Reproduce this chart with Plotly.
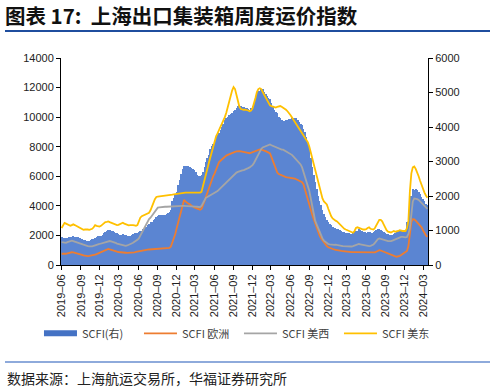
import pandas as pd
import plotly.graph_objects as go

# weekly dates (Fridays), 2019-05-31 .. 2024-03-22
dates = pd.date_range("2019-05-31", periods=252, freq="7D")

# SCFI composite (right axis)
scfi = [
    800, 790, 785, 780, 790, 800, 815, 825, 830, 825, 815, 800, 790, 780, 760, 735, 720, 710, 700, 705, 720, 740, 760, 790, 820, 830, 840, 850, 880, 920, 960,
    1000, 1020, 1010, 990, 980, 970, 940, 920, 890, 880, 880, 890, 880, 860, 840, 830, 840, 860, 890, 920, 930, 925, 950, 980, 1000, 1030, 1060, 1100, 1150, 1200, 1250, 1260, 1300, 1330, 1380, 1420, 1440, 1445, 1450, 1450, 1460, 1480, 1500, 1530, 1600, 1850, 1950, 2050, 2130, 2310, 2450, 2640,
    2780, 2870, 2880, 2870, 2860, 2840, 2800, 2780, 2760, 2700, 2620, 2570, 2580, 2600, 2700, 2850, 3000, 3100, 3200, 3350, 3450, 3500, 3600, 3700, 3780, 3830, 3900, 4000, 4100, 4200, 4250, 4300, 4340, 4380, 4400, 4450, 4500, 4560, 4600, 4630, 4600, 4590, 4570, 4560, 4550, 4530, 4500, 4550, 4600, 4700, 4850, 4950, 5050,
    5050, 5110, 5100, 5010, 4950, 4900, 4850, 4800, 4700, 4600, 4500, 4430, 4400, 4300, 4260, 4200, 4180, 4180, 4200, 4200, 4220, 4230, 4250, 4270, 4260, 4250, 4200, 4150, 4100, 4050, 3950, 3850, 3700, 3550, 3350, 3100, 2850, 2600, 2400, 2200, 2000, 1850, 1750, 1600, 1480, 1380, 1300, 1250, 1200, 1150, 1100, 1080,
    1060, 1040, 1030, 1010, 990, 960, 950, 940, 930, 920, 910, 900, 920, 950, 980, 1000, 1030, 1010, 990, 970, 950, 940, 950, 960, 950, 940, 960, 990, 1020, 1040, 1030, 1010, 990, 970, 940, 910, 890, 880, 880, 870, 890, 920, 950, 980, 990, 1000, 1000, 990, 1010, 1250, 1500, 1760,
    2000, 2200, 2180, 2200, 2170, 2110, 2050, 1980, 1920, 1850, 1780, 1740,
]

# SCFI Europe (left axis)
europe = [
    760, 750, 740, 760, 790, 820, 850, 860, 850, 830, 800, 780, 750, 720, 690, 650, 620, 610, 600, 610, 620, 640, 660, 700, 740, 780, 820, 860, 900, 950, 1000,
    1050, 1090, 1060, 1020, 980, 950, 920, 900, 880, 860, 850, 840, 830, 830, 820, 820, 830, 840, 850, 860, 880, 900, 950, 980, 1000, 1010, 1020, 1030, 1040, 1050, 1060, 1060, 1070, 1080, 1080, 1090, 1090, 1100, 1100, 1110, 1120, 1130, 1140, 1160, 1250, 1500, 1800, 2100, 2500, 2900, 3300, 3800,
    4100, 4400, 4300, 4200, 4150, 4100, 4000, 3950, 3900, 3850, 3800, 3750, 3740, 3800, 4000, 4300, 4600, 4900, 5200, 5500, 5800, 6000, 6200, 6500, 6800, 6950, 7050, 7150, 7250, 7350, 7400, 7450, 7500, 7550, 7600, 7620, 7650, 7680, 7700, 7700, 7680, 7650, 7620, 7600, 7600, 7580, 7560, 7600, 7620, 7650, 7700, 7750, 7800,
    7820, 7800, 7780, 7750, 7700, 7650, 7600, 7550, 7300, 7000, 6700, 6400, 6250, 6150, 6100, 6050, 6000, 5980, 5950, 5930, 5920, 5910, 5900, 5880, 5850, 5800, 5750, 5700, 5650, 5600, 5450, 5100, 4700, 4300, 4000, 3700, 3400, 3100, 2800, 2550, 2250, 2000, 1800, 1650, 1500, 1380, 1280, 1200, 1150, 1100, 1080, 1050,
    1030, 1000, 980, 960, 950, 940, 920, 910, 900, 890, 880, 870, 870, 870, 860, 860, 850, 850, 850, 840, 840, 830, 830, 820, 820, 830, 840, 860, 900, 950, 1000, 980, 940, 900, 850, 800, 750, 700, 650, 620, 600, 580, 560, 580, 620, 680, 740, 800, 850, 950, 1300, 2300,
    2900, 3100, 3080, 3000, 2900, 2800, 2700, 2550, 2350, 2150, 2000, 1900,
]

# SCFI US West coast (left axis)
us_west = [
    1550, 1520, 1500, 1500, 1550, 1600, 1650, 1650, 1620, 1580, 1550, 1500, 1450, 1420, 1400, 1380, 1350, 1300, 1280, 1260, 1250, 1260, 1300, 1350, 1380, 1400, 1420, 1450, 1480, 1500, 1530,
    1560, 1600, 1620, 1600, 1580, 1550, 1500, 1450, 1420, 1380, 1350, 1320, 1300, 1300, 1320, 1350, 1400, 1450, 1500, 1550, 1600, 1700, 1800, 2000, 2200, 2400, 2600, 2800, 2950, 3100, 3200, 3350, 3500, 3650, 3800, 3880, 3900, 3920, 3930, 3930, 3940, 3940, 3950, 3950, 3950, 3950, 3960, 3970, 3980, 3990, 4000, 4000,
    4000, 4000, 4000, 4000, 3990, 3980, 3970, 3960, 3950, 3950, 3940, 3930, 3920, 4000, 4200, 4400, 4550, 4600, 4650, 4700, 4750, 4800, 4850, 4900, 5000, 5100, 5200, 5300, 5400, 5500, 5600, 5700, 5800, 5900, 6000, 6100, 6200, 6250, 6300, 6350, 6400, 6400, 6420, 6450, 6500, 6550, 6600, 6650, 6750, 6900, 7100, 7300, 7500,
    7700, 7850, 7950, 8000, 8050, 8100, 8150, 8150, 8100, 8050, 8000, 7950, 7900, 7850, 7850, 7800, 7800, 7750, 7700, 7650, 7600, 7550, 7450, 7350, 7250, 7100, 7000, 6900, 6800, 6600, 6300, 6000, 5700, 5400, 5000, 4500, 3900, 3400, 3000, 2750, 2500, 2250, 2000, 1800, 1650, 1550, 1480, 1420, 1390, 1370, 1360, 1360,
    1380, 1370, 1350, 1330, 1300, 1280, 1270, 1260, 1250, 1240, 1230, 1250, 1280, 1320, 1380, 1400, 1420, 1400, 1380, 1350, 1330, 1300, 1280, 1280, 1300, 1320, 1380, 1500, 1650, 1750, 1800, 1780, 1750, 1720, 1680, 1650, 1620, 1600, 1620, 1650, 1700, 1750, 1800, 1850, 1880, 1900, 1900, 1880, 1870, 1900, 2100, 2500,
    3500, 4300, 4500, 4500, 4450, 4400, 4300, 4200, 4100, 4000, 3900, 3800,
]

# SCFI US East coast (left axis)
us_east = [
    2500, 2700, 2850, 2800, 2750, 2700, 2650, 2700, 2750, 2700, 2650, 2600, 2500, 2450, 2400, 2380, 2400, 2420, 2400, 2380, 2400, 2450, 2550, 2700, 2650, 2600, 2600, 2650, 2750, 2850, 2900,
    2920, 2950, 2900, 2850, 2800, 2750, 2700, 2700, 2720, 2750, 2800, 2860, 2800, 2750, 2700, 2680, 2700, 2720, 2700, 2680, 2650, 2700, 3000, 3200, 3300, 3350, 3400, 3450, 3500, 3530, 3700, 3900, 4200, 4450, 4600, 4620, 4630, 4640, 4650, 4650, 4660, 4680, 4700, 4720, 4740, 4760, 4780, 4800, 4820, 4850, 4870, 4880,
    4880, 4890, 4900, 4900, 4900, 4900, 4890, 4890, 4890, 4890, 4890, 4890, 4900, 4950, 5300, 5700, 6100, 6500, 6900, 7300, 7700, 8100, 8400, 8700, 8900, 9100, 9300, 9500, 9700, 10000, 10300, 10700, 11100, 11500, 11800, 12030, 11900, 11500, 11000, 10700, 10550, 10500, 10500, 10500, 10500, 10450, 10400, 10450, 10600, 10900, 11300, 11700, 11900,
    11950, 11900, 11700, 11500, 11300, 11100, 10900, 10800, 10750, 10700, 10650, 10650, 10700, 10750, 10750, 10700, 10650, 10600, 10500, 10400, 10300, 10150, 10000, 9850, 9700, 9550, 9400, 9250, 9100, 8950, 8800, 8650, 8500, 8300, 8000, 7600, 7200, 6800, 6400, 6000, 5600, 5200, 4800, 4500, 4300, 4200, 4100, 3800, 3500, 3300, 3150, 3050,
    3000, 2950, 2850, 2700, 2600, 2500, 2450, 2400, 2350, 2300, 2250, 2200, 2180, 2300, 2500, 2550, 2500, 2450, 2450, 2400, 2400, 2420, 2500, 2550, 2450, 2400, 2400, 2500, 2700, 2900, 3050, 3050, 2950, 2750, 2500, 2350, 2250, 2200, 2200, 2250, 2300, 2250, 2250, 2300, 2350, 2300, 2300, 2300, 2300, 2500, 3000, 5000,
    6200, 6600, 6660, 6500, 6300, 6000, 5700, 5400, 5100, 4900, 4700, 4550,
]

for s in (scfi, europe, us_west, us_east):
    assert len(s) == len(dates), len(s)

tick_dates = [d.strftime("%Y-%m-%d") for d in pd.date_range("2019-06-01", "2024-03-01", freq="3MS")]
tick_labels = [d[:7].replace("-", "–") for d in tick_dates]

names = ["SCFI(右)", "SCFI 欧洲", "SCFI 美西", "SCFI 美东"]
colors = ["#4472C4", "#ED7D31", "#A5A5A5", "#FFC000"]

fig = go.Figure()
fig.add_trace(go.Bar(x=dates, y=scfi, yaxis="y", opacity=0.99,
                     marker=dict(color="#5A84D2", line=dict(width=0)),
                     width=4.0 * 86400000, showlegend=False, name=names[0]))
fig.add_trace(go.Scatter(x=[dates[0]], y=[None], yaxis="y2", mode="lines", name=names[0],
                         line=dict(color=colors[0], width=6)))
for nm, ser, col in zip(names[1:], [europe, us_west, us_east], colors[1:]):
    fig.add_trace(go.Scatter(x=dates, y=ser, yaxis="y2", mode="lines", name=nm,
                             line=dict(color=col, width=1.8)))

axfont = dict(family="Liberation Sans, Arial", size=11, color="#222")


def rule(y, color):
    # a thin horizontal rule spanning the page: a filled, text-less annotation box
    return dict(x=-0.153, y=y, xref="paper", yref="paper", xanchor="left", yanchor="middle",
                text=" ", showarrow=False, width=485, height=2, borderpad=0, borderwidth=0,
                bgcolor=color, font=dict(size=1, color=color))


fig.update_layout(
    width=495, height=391,
    margin=dict(l=61, r=67, t=58, b=126),
    paper_bgcolor="white", plot_bgcolor="white",
    bargap=0,
    title=dict(text="<b>图表 17:  上海出口集装箱周度运价指数</b>", x=0.01, xanchor="left",
               y=0.957, yanchor="middle", yref="container",
               font=dict(family="Noto Sans CJK SC", size=20.5, color="#111")),
    xaxis=dict(type="date", range=["2019-05-28", "2024-03-25"], tickvals=tick_dates, ticktext=tick_labels,
               tickangle=-90, showline=True, linecolor="black", linewidth=1, ticks="outside",
               ticklen=4, tickcolor="black", showgrid=False, zeroline=False, tickfont=axfont),
    yaxis=dict(side="right", range=[0, 6000], dtick=1000, tickformat="d", showline=True,
               linecolor="black", linewidth=1, ticks="outside", ticklen=4, tickcolor="black",
               showgrid=False, zeroline=False, tickfont=axfont),
    yaxis2=dict(side="left", overlaying="y", range=[0, 14000], dtick=2000, tickformat="d",
                showline=True, linecolor="black", linewidth=1, ticks="outside", ticklen=4,
                tickcolor="black", showgrid=False, zeroline=False, tickfont=axfont),
    legend=dict(orientation="h", x=-0.06, y=-0.33, xanchor="left", yanchor="middle",
                entrywidth=52, entrywidthmode="pixels", itemwidth=33,
                font=dict(family="Noto Sans CJK SC", size=11, color="#404040"),
                bgcolor="rgba(0,0,0,0)"),
    annotations=[
        dict(text="数据来源：上海航运交易所，华福证券研究所", xref="paper", yref="paper",
             x=-0.153, y=-0.546, xanchor="left", yanchor="middle", showarrow=False,
             font=dict(family="Noto Sans CJK SC", size=14, color="#222")),
        rule(1.130, "#1F4E9E"),
        rule(-0.469, "#8EAADB"),
    ],
)

fig.write_html("out.html", config={"displayModeBar": False},
               post_script="document.body.style.margin='0';")
